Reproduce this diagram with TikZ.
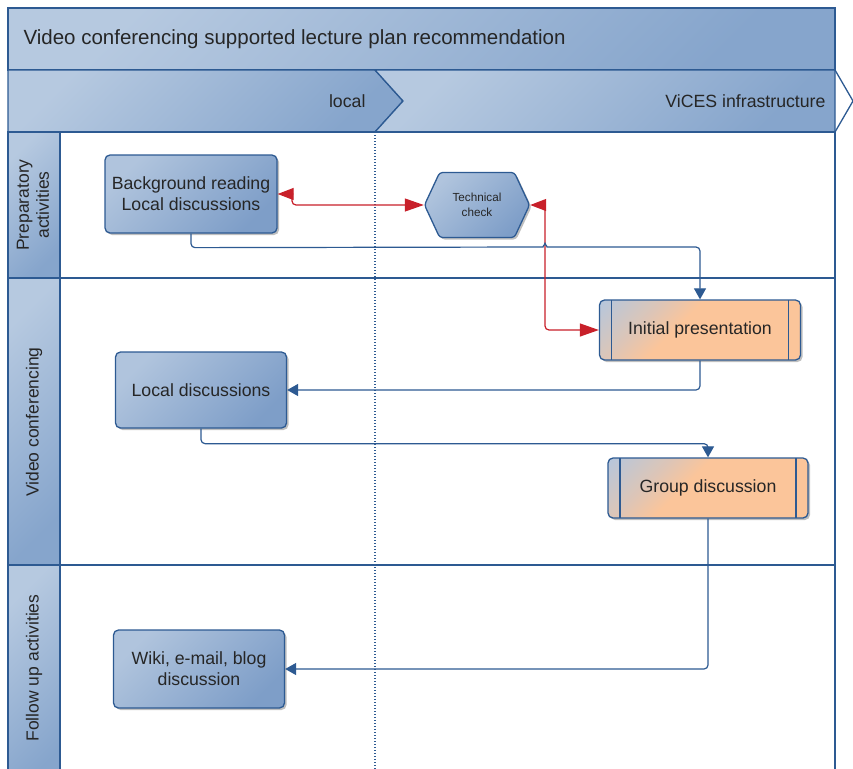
\documentclass[tikz,border=0pt]{standalone}
\usepackage{fontspec}
\setmainfont{Liberation Sans}
\usetikzlibrary{shapes.symbols,shadows,arrows.meta}

\definecolor{laneline}{HTML}{2D5A92}
\definecolor{bluelight}{HTML}{B6C9E0}
\definecolor{bluedark}{HTML}{86A5CC}
\definecolor{boxlight}{HTML}{B0C4DD}
\definecolor{boxdark}{HTML}{7E9EC8}
\definecolor{orangelight}{HTML}{B8C6DA}
\definecolor{orangedark}{HTML}{FBC59A}
\definecolor{flowred}{HTML}{C8202A}
\definecolor{flowblue}{HTML}{2D5A92}
\definecolor{txt}{HTML}{262626}

% orange fill of the process boxes: a bluish tint only near the upper left corner
\pgfdeclareverticalshading{procshade}{100bp}{%
  color(0bp)=(orangedark); color(57bp)=(orangedark);
  color(68bp)=(orangedark!55!orangelight); color(84bp)=(orangelight);
  color(100bp)=(orangelight)}

\tikzset{
  headfill/.style={top color=bluelight, bottom color=bluedark, shading angle=45,
    draw=laneline, line width=1.3pt},
  laneborder/.style={draw=laneline, line width=1.3pt},
  activity/.style={rectangle, rounded corners=5pt, draw=laneline, line width=1.3pt,
    top color=boxlight, bottom color=boxdark, shading angle=45,
    drop shadow={shadow xshift=2pt, shadow yshift=-2pt, opacity=0.25, fill=black},
    text=txt, font=\fontsize{17.7}{21}\selectfont, align=center, inner sep=0pt},
  process/.style={activity, shading=procshade, shading angle=45,
    path picture={
      \draw[laneline, line width=1.1pt]
        ([xshift=12pt]path picture bounding box.north west) --
        ([xshift=12pt]path picture bounding box.south west);
      \draw[laneline, line width=1.1pt]
        ([xshift=-12pt]path picture bounding box.north east) --
        ([xshift=-12pt]path picture bounding box.south east);}},
  check/.style={activity, signal, signal to=east and west, signal pointer angle=130,
    rounded corners=3pt, font=\fontsize{11.7}{14.5}\selectfont},
  flow/.style={draw=flowblue, line width=1.2pt, rounded corners=4pt,
    -{Triangle[length=11pt,width=12pt]}},
  redflow/.style={draw=flowred, line width=1.2pt, rounded corners=4pt,
    {Triangle[length=16pt,width=12pt]}-{Triangle[length=19pt,width=13pt]}},
  lanelabel/.style={rotate=90, text=txt, font=\fontsize{17.5}{20}\selectfont, align=center},
  headlabel/.style={text=txt, font=\fontsize{17.7}{21}\selectfont, anchor=east}
}

\begin{document}
\begin{tikzpicture}[x=1pt, y=-1pt]
\useasboundingbox (0,0) rectangle (853,768);
\clip (0,0) rectangle (853,768);

% title band
\path[headfill] (8,8) rectangle (835,70);
\node[text=txt, font=\fontsize{20.5}{24}\selectfont, anchor=west] (title) at (20,39)
  {Video conferencing supported lecture plan recommendation};

% column headers
\path[headfill] (8,70) -- (375,70) -- (403,101) -- (375,132) -- (8,132) -- cycle;
\path[headfill] (375,70) -- (835,70) -- (835,132) -- (375,132) -- (403,101) -- cycle;
\draw[laneline, line width=1.3pt] (835,70) -- (853,101) -- (835,132);
\node[headlabel] (collocal) at (369,101) {local};
\node[headlabel] (colvices) at (829,101) {ViCES infrastructure};

% lanes
\path[laneborder, fill=white] (8,132) rectangle (835,278);
\path[laneborder, fill=white] (8,278) rectangle (835,565);
\path[laneborder, fill=white] (8,565) rectangle (835,790);
\path[headfill] (8,132) rectangle (60,278);
\path[headfill] (8,278) rectangle (60,565);
\path[headfill] (8,565) rectangle (60,790);
\node[lanelabel] (lane1) at (33,205) {Preparatory\\activities};
\node[lanelabel] (lane2) at (34,422) {Video conferencing};
\node[lanelabel] (lane3) at (34,668) {Follow up activities};

% column divider
\draw[laneline, line width=1.2pt, dash pattern=on 1.2pt off 1.8pt] (375,132) -- (375,790);

% activities
\node[activity, minimum width=172pt, minimum height=78pt] (bg) at (191,194)
  {Background reading\\Local discussions};
\node[check, minimum width=105pt, minimum height=65pt] (tech) at (477,205)
  {Technical\\check};
\node[process, minimum width=201pt, minimum height=60pt] (ip) at (700,330)
  {Initial presentation};
\node[activity, minimum width=171pt, minimum height=76pt] (ld) at (201,390)
  {Local discussions};
\node[process, minimum width=200pt, minimum height=60pt] (gd) at (708,488)
  {Group discussion};
\node[activity, minimum width=171pt, minimum height=78pt] (wk) at (199,669)
  {Wiki, e-mail, blog\\discussion};

% connectors
\draw[redflow] (bg.east) -- (292,194) -- (292,205) -- (tech.west);
\draw[redflow] (tech.east) -| (545,330) -- (ip.west);
\draw[flow] (bg.south) -- ++(0,14) -- (539,247)
  .. controls (542,247) and (544,246) .. (545,241)
  .. controls (546,246) and (548,247) .. (551,247) -| (ip.north);
\draw[flow] (ip.south) |- (ld.east);
\draw[flow] (ld.south) -- ++(0,15) -| (gd.north);
\draw[flow] (gd.south) |- (wk.east);
\end{tikzpicture}
\end{document}
